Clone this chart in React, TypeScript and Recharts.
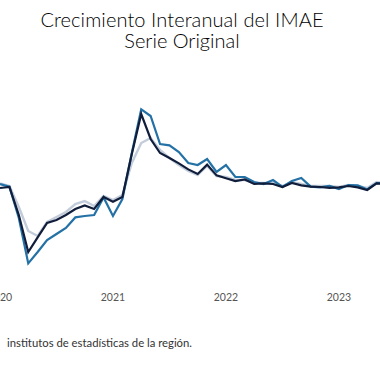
import React from 'react';
import { LineChart, Line, XAxis, YAxis } from 'recharts';

// Year tick labels (January of each year)
const years = ['2020', '2021', '2022', '2023'];

// Monthly year-over-year growth, Jan 2020 .. Jun 2023 (%)
const serieClara = [
  4.4, 3.75, -1.5, -7.5, -8.75, -5.25, -4.0, -2.75, -0.75, 0.0, -1.25, 1.25,
  0.25, 1.5, 9.5, 14.5, 15.75, 12.75, 10.75, 9.0, 7.5, 6.5, 8.75, 6.25,
  6.0, 5.25, 5.25, 4.5, 4.5, 4.5, 3.75, 4.75, 4.25, 3.75, 3.75, 3.75,
  3.5, 4.0, 3.75, 3.25, 4.75, 4.5,
];
const serieMedia = [
  4.25, 3.6, -4.25, -15.6, -12.75, -9.75, -8.25, -6.75, -4.1, -3.75, -3.5, 0.9,
  -3.75, 0.5, 12.0, 22.9, 21.25, 14.25, 13.9, 12.25, 9.5, 9.0, 10.5, 7.25,
  9.0, 6.0, 6.0, 4.75, 4.25, 5.25, 3.5, 5.0, 5.75, 3.6, 3.4, 3.75,
  3.0, 4.0, 3.9, 2.9, 4.5, 4.4,
];
const serieOscura = [
  3.25, 3.5, -3.5, -12.75, -9.1, -5.5, -4.75, -3.5, -2.0, -1.1, -2.0, 1.0,
  -0.2, 1.0, 11.75, 21.75, 15.5, 12.0, 10.75, 9.4, 7.9, 6.75, 9.1, 6.4,
  5.7, 5.0, 5.4, 4.25, 4.4, 4.25, 3.5, 4.5, 3.9, 3.6, 3.5, 3.3,
  3.4, 3.75, 3.4, 2.75, 4.4, 4.25,
];

const data = serieOscura.map((v, i) => ({
  idx: i,
  clara: serieClara[i],
  media: serieMedia[i],
  oscura: v,
}));

const font = 'Lato, "Open Sans", sans-serif';

const titleStyle: React.CSSProperties = {
  position: 'absolute',
  left: 0,
  width: 364,
  textAlign: 'center',
  fontSize: 20,
  fontWeight: 300,
  lineHeight: '18px',
  color: '#000',
  whiteSpace: 'nowrap',
};

export default function App() {
  return (
    <div
      style={{
        position: 'absolute',
        left: 0,
        top: 0,
        width: 380,
        height: 368,
        overflow: 'hidden',
        background: '#fff',
        fontFamily: font,
      }}
    >
      {/* Title */}
      <div style={{ ...titleStyle, top: 10, letterSpacing: 0.1 }}>
        Crecimiento Interanual del IMAE
      </div>
      <div style={{ ...titleStyle, top: 31 }}>Serie Original</div>

      <div style={{ position: 'absolute', left: 0, top: 0 }}>
        <LineChart
          width={400}
          height={368}
          data={data}
          margin={{ top: 101, right: 14, left: 0, bottom: 57 }}
        >
          <XAxis
            dataKey="idx"
            type="number"
            domain={[0, 41]}
            ticks={[0, 12, 24, 36]}
            interval={0}
            tickFormatter={(v) => years[v / 12]}
            axisLine={false}
            tickLine={false}
            tickMargin={7}
            tick={{ fill: '#555', fontSize: 10.5, fontFamily: font }}
            height={30}
          />
          <YAxis hide domain={[-20, 25]} allowDataOverflow />
          <Line
            type="linear"
            dataKey="clara"
            stroke="#c3ccda"
            strokeWidth={2.4}
            dot={false}
            isAnimationActive={false}
          />
          <Line
            type="linear"
            dataKey="media"
            stroke="#2471a6"
            strokeWidth={2.2}
            dot={false}
            isAnimationActive={false}
          />
          <Line
            type="linear"
            dataKey="oscura"
            stroke="#101d3b"
            strokeWidth={2.2}
            dot={false}
            isAnimationActive={false}
          />
        </LineChart>
      </div>

      {/* Source note */}
      <div
        style={{
          position: 'absolute',
          left: 7,
          top: 336,
          fontSize: 11.3,
          color: '#333',
          whiteSpace: 'nowrap',
        }}
      >
        institutos de estadísticas de la región.
      </div>
    </div>
  );
}
